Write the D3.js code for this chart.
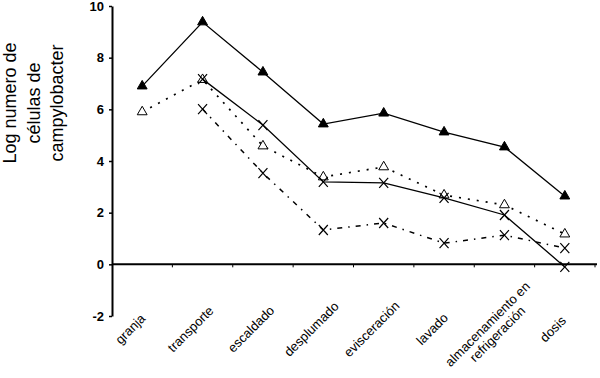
<!DOCTYPE html>
<html>
<head>
<meta charset="utf-8">
<script src="https://cdn.jsdelivr.net/npm/d3@7"></script>
<style>
  html, body { margin: 0; padding: 0; background: #ffffff; }
  svg { display: block; font-family: "Liberation Sans", Arial, sans-serif; }
</style>
</head>
<body>
<div id="chart"></div>
<script>
const CATEGORIES = [
  ["granja"],
  ["transporte"],
  ["escaldado"],
  ["desplumado"],
  ["evisceración"],
  ["lavado"],
  ["almacenamiento en", "refrigeración"],
  ["dosis"],
];

// solid line, filled triangles
const SERIES_TOP = [6.9, 9.38, 7.44, 5.43, 5.85, 5.12, 4.54, 2.64];
// solid line, crosses
const SERIES_CROSS = [null, 7.17, 5.39, 3.19, 3.15, 2.57, 1.91, -0.1];
// dotted line, open triangles
const SERIES_OPEN = [5.9, 7.15, 4.58, 3.38, 3.77, 2.68, 2.3, 1.17];
// dash-dot line, crosses
const SERIES_DASH = [null, 6.01, 3.53, 1.33, 1.6, 0.82, 1.13, 0.63];

const Y_TICKS = [-2, 0, 2, 4, 6, 8, 10];
const Y_LABEL = ["Log numero de", "células de", "campylobacter"];

const width = 600;
const height = 378;

const svg = d3.select("#chart")
  .append("svg")
  .attr("width", width)
  .attr("height", height);

const keys = CATEGORIES.map((c) => c.join(" "));

const x = d3.scaleBand()
  .domain(keys)
  .range([112, 595]);

const y = d3.scaleLinear()
  .domain([-2, 10])
  .range([316, 6]);

// y axis
const yAxis = svg.append("g")
  .attr("transform", "translate(112,0)")
  .call(
    d3.axisLeft(y)
      .tickValues(Y_TICKS)
      .tickFormat((d) => String(d))
      .tickSize(3)
      .tickSizeOuter(0)
      .tickPadding(5)
  );
yAxis.select(".domain").attr("stroke", "#000").attr("stroke-width", 2);
yAxis.selectAll(".tick line").attr("stroke", "#000").attr("stroke-width", 1.5);
yAxis.selectAll(".tick text")
  .attr("font-family", "Liberation Sans, Arial, sans-serif")
  .attr("font-size", 13)
  .attr("font-weight", "bold")
  .attr("fill", "#000");

// x axis line at zero
const xAxis = svg.append("g")
  .attr("transform", `translate(0,${y(0)})`);
xAxis.append("line")
  .attr("x1", 112)
  .attr("x2", 597)
  .attr("stroke", "#000")
  .attr("stroke-width", 2);
xAxis.selectAll("line.tk")
  .data(keys.slice(1).map((k) => x(k)).concat([x.range()[1]]))
  .join("line")
  .attr("class", "tk")
  .attr("x1", (d) => d)
  .attr("x2", (d) => d)
  .attr("y1", 0)
  .attr("y2", 3)
  .attr("stroke", "#000")
  .attr("stroke-width", 1);

// category labels
const catG = svg.append("g");
CATEGORIES.forEach((lines, i) => {
  const cx = x(keys[i]) + x.bandwidth() / 2;
  const t = catG.append("text")
    .attr("transform", `translate(${cx - 12},329) rotate(-45)`)
    .attr("text-anchor", "middle")
    .attr("font-size", 13)
    .attr("fill", "#000");
  lines.forEach((line, j) => {
    t.append("tspan")
      .attr("x", 0)
      .attr("y", (j - (lines.length - 1) / 2) * 14)
      .attr("dy", "0.35em")
      .text(line);
  });
});

// y label
const yl = svg.append("text")
  .attr("transform", "translate(0,103) rotate(-90)")
  .attr("text-anchor", "middle")
  .attr("font-size", 18)
  .attr("fill", "#000");
Y_LABEL.forEach((line, j) => {
  yl.append("tspan")
    .attr("x", 0)
    .attr("y", 16 + j * 23.5)
    .text(line);
});

const cx = (i) => x(keys[i]) + x.bandwidth() / 2;
const pts = (arr) => arr.map((v, i) => ({ i, v })).filter((d) => d.v !== null);

const line = d3.line()
  .x((d) => cx(d.i))
  .y((d) => y(d.v));

const seriesDefs = [
  { data: SERIES_OPEN, dash: "2,7", width: 1.7, marker: "open" },
  { data: SERIES_DASH, dash: "5,6,1.5,6", width: 1.5, marker: "cross" },
  { data: SERIES_CROSS, dash: null, width: 1.3, marker: "cross" },
  { data: SERIES_TOP, dash: null, width: 1.3, marker: "filled" },
];

const tri = d3.symbol().type(d3.symbolTriangle).size(42);

seriesDefs.forEach((s) => {
  const p = pts(s.data);
  svg.append("path")
    .datum(p)
    .attr("fill", "none")
    .attr("stroke", "#000")
    .attr("stroke-width", s.width)
    .attr("stroke-dasharray", s.dash)
    .attr("d", line);

  const g = svg.append("g");
  if (s.marker === "cross") {
    g.selectAll("path")
      .data(p)
      .join("path")
      .attr("transform", (d) => `translate(${cx(d.i)},${y(d.v)})`)
      .attr("d", "M-4.5,-5L4.5,5M-4.5,5L4.5,-5")
      .attr("stroke", "#000")
      .attr("stroke-width", 1.2)
      .attr("fill", "none");
  } else {
    g.selectAll("path")
      .data(p)
      .join("path")
      .attr("transform", (d) => `translate(${cx(d.i)},${y(d.v)})`)
      .attr("d", tri)
      .attr("fill", s.marker === "filled" ? "#000" : "#fff")
      .attr("stroke", "#000")
      .attr("stroke-width", 1);
  }
});
</script>
</body>
</html>
